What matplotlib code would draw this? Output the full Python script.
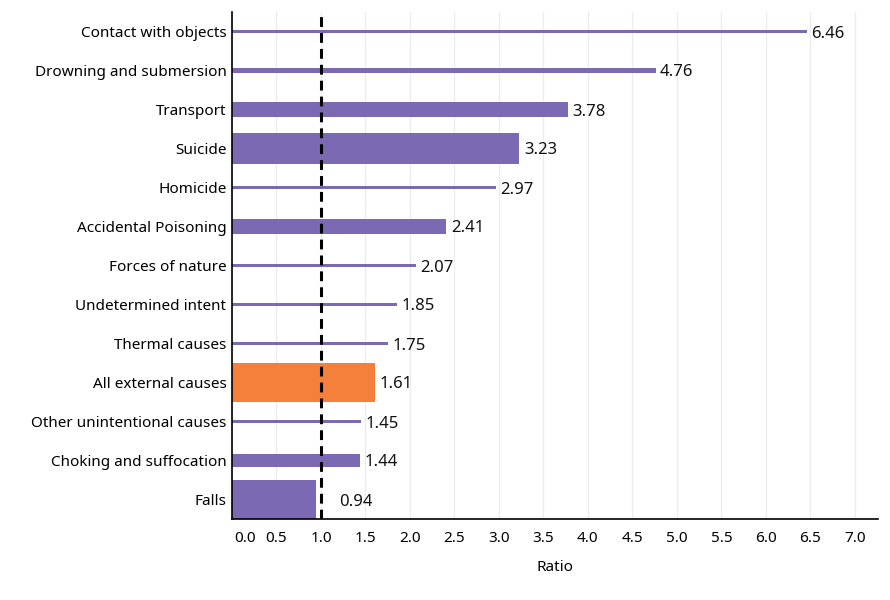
import matplotlib.pyplot as plt
import matplotlib.transforms as mtrans
import numpy as np

CAUSES = [
    "Contact with objects",
    "Drowning and submersion",
    "Transport",
    "Suicide",
    "Homicide",
    "Accidental Poisoning",
    "Forces of nature",
    "Undetermined intent",
    "Thermal causes",
    "All external causes",
    "Other unintentional causes",
    "Choking and suffocation",
    "Falls",
]
RATIOS = [6.46, 4.76, 3.78, 3.23, 2.97, 2.41, 2.07, 1.85, 1.75, 1.61, 1.45, 1.44, 0.94]
# relative bar thickness (share of the row)
WEIGHTS = [0.08, 0.115, 0.37, 0.79, 0.095, 0.38, 0.08, 0.08, 0.08, 1.0, 0.1, 0.31, 1.0]
HIGHLIGHT = "All external causes"

PURPLE = "#7b69b4"
ORANGE = "#f5803b"
plt.rcParams["font.family"] = ["Noto Sans", "DejaVu Sans"]

fig = plt.figure(figsize=(8.9, 6), dpi=100)
ax = fig.add_axes((232 / 890, 81 / 600, 646 / 890, 507 / 600))

ys = np.arange(len(CAUSES))
colors = [ORANGE if c == HIGHLIGHT else PURPLE for c in CAUSES]
ax.barh(ys, RATIOS, height=WEIGHTS, color=colors, zorder=2)

for y, v in zip(ys, RATIOS):
    x = v + 0.05 if v >= 1 else 1.2
    ax.text(x, y, f"{v:.2f}", va="center_baseline", ha="left", fontsize=12,
            color="#111111", zorder=4)

ax.axvline(1.0, color="black", lw=2.2, dashes=(3.2, 2.0), zorder=3)

ax.set_xlim(0, 7.26)
ax.set_ylim(len(CAUSES) - 0.5, -0.5)
ax.set_yticks(ys, CAUSES, fontsize=11)
xt = np.arange(0, 7.01, 0.5)
ax.set_xticks(xt, [f"{t:.1f}" for t in xt], fontsize=11)
ax.tick_params(axis="y", length=0, pad=4)
ax.tick_params(axis="x", length=0, pad=9)
# first tick label sits a bit right of the axis in the original
first = ax.get_xticklabels()[0]
first.set_transform(first.get_transform() + mtrans.ScaledTranslation(13 / 100, 0, fig.dpi_scale_trans))

ax.grid(axis="x", color="#ececec", lw=0.9, zorder=0)
ax.set_axisbelow(True)
for side in ("top", "right"):
    ax.spines[side].set_visible(False)
for side in ("left", "bottom"):
    ax.spines[side].set_color("black")
    ax.spines[side].set_linewidth(1.2)

ax.set_xlabel("Ratio", fontsize=11, labelpad=10)

fig.savefig("out.png", dpi=100)
